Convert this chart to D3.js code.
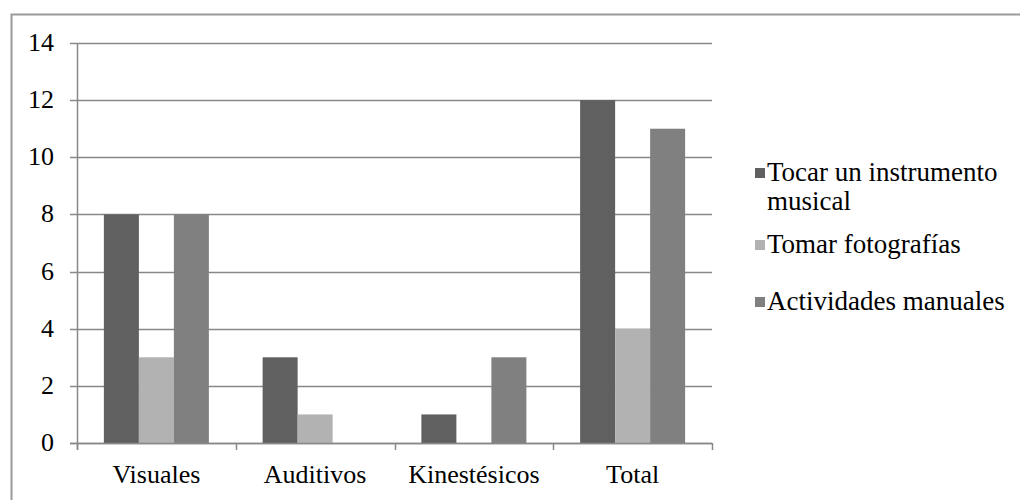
<!DOCTYPE html>
<html><head><meta charset="utf-8">
<script src="https://cdn.jsdelivr.net/npm/d3@7"></script>
<style>body{margin:0;background:#fff}svg{display:block}</style>
</head><body>
<script>
const categories = ["Visuales", "Auditivos", "Kinestésicos", "Total"];
const seriesNames = ["Tocar un instrumento musical", "Tomar fotografías", "Actividades manuales"];
const tocar = [8, 3, 1, 12];
const tomar = [3, 1, 0, 4];
const actividades = [8, 0, 3, 11];
const yTicks = [0, 2, 4, 6, 8, 10, 12, 14];
const colors = ["#606060", "#b2b2b2", "#808080"];
const seriesValues = [tocar, tomar, actividades];
const FONT = "'Liberation Serif', 'DejaVu Serif', serif";

const W = 1020, H = 500;
const svg = d3.select("body").append("svg").attr("width", W).attr("height", H);

svg.append("rect").attr("x", 11.5).attr("y", 14.5).attr("width", 1100).attr("height", 600)
  .attr("fill", "none").attr("stroke", "#9a9a9a").attr("stroke-width", 2);

const x0 = 77, x1 = 712, yTop = 43, yBot = 443;
const x = d3.scaleBand().domain(categories).range([x0, x1]).paddingInner(0).paddingOuter(0);
const y = d3.scaleLinear().domain([0, 14]).range([yBot, yTop]);
const bw = 35;
const xs = d3.scaleBand().domain(seriesNames).range([0, bw * 3]);

svg.append("g").selectAll("line").data(yTicks).join("line")
  .attr("x1", x0 - 7).attr("x2", x1).attr("y1", d => Math.round(y(d)) + 0.5).attr("y2", d => Math.round(y(d)) + 0.5)
  .attr("stroke", "#888").attr("stroke-width", 1.5);

const g = svg.append("g");
categories.forEach((c, i) => {
  const off = x(c) + (x.bandwidth() - bw * 3) / 2;
  seriesNames.forEach((s, j) => {
    const v = seriesValues[j][i];
    if (v > 0) {
      g.append("rect").attr("x", off + xs(s)).attr("y", y(v)).attr("width", bw).attr("height", y(0) - y(v))
        .attr("fill", colors[j]);
    }
  });
});

svg.append("line").attr("x1", x0 + 0.5).attr("x2", x0 + 0.5).attr("y1", yTop).attr("y2", yBot + 7)
  .attr("stroke", "#888").attr("stroke-width", 1.5);
const bounds = categories.map(c => x(c)).concat([x1]);
svg.append("g").selectAll("line").data(bounds).join("line")
  .attr("x1", d => Math.round(d) + 0.5).attr("x2", d => Math.round(d) + 0.5)
  .attr("y1", yBot).attr("y2", yBot + 7).attr("stroke", "#888").attr("stroke-width", 1.5);
svg.append("line").attr("x1", x0 - 7).attr("x2", x1).attr("y1", yBot + 0.5).attr("y2", yBot + 0.5)
  .attr("stroke", "#888").attr("stroke-width", 1.5);

svg.append("g").selectAll("text").data(yTicks).join("text")
  .attr("x", 54).attr("y", d => y(d) + 8).attr("text-anchor", "end")
  .style("font-family", FONT).style("font-size", "26px").attr("fill", "#000").text(d => d);

svg.append("g").selectAll("text").data(categories).join("text")
  .attr("x", d => x(d) + x.bandwidth() / 2).attr("y", 483).attr("text-anchor", "middle")
  .style("font-family", FONT).style("font-size", "26px").attr("fill", "#000").text(d => d);

const legendLines = [["Tocar un instrumento", "musical"], ["Tomar fotografías"], ["Actividades manuales"]];
const legY = [181, 253, 310];
legendLines.forEach((lines, j) => {
  svg.append("rect").attr("x", 755).attr("y", legY[j] - 13).attr("width", 10).attr("height", 10).attr("fill", colors[j]);
  lines.forEach((t, k) => {
    svg.append("text").attr("x", 767).attr("y", legY[j] + k * 29)
      .style("font-family", FONT).style("font-size", "27px").attr("fill", "#000").text(t);
  });
});
</script>
</body></html>
